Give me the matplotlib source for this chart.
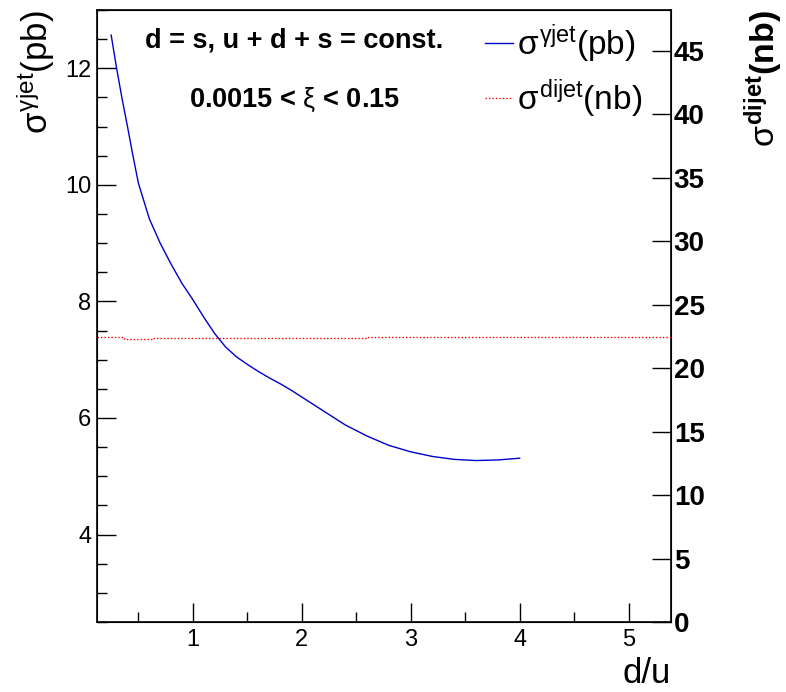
import numpy as np
import matplotlib
matplotlib.use("Agg")
import matplotlib.pyplot as plt
from matplotlib.ticker import MultipleLocator
from matplotlib.lines import Line2D

plt.rcParams['font.family'] = ['Liberation Sans', 'DejaVu Sans']
plt.rcParams['mathtext.fontset'] = 'custom'
plt.rcParams['mathtext.rm'] = 'Liberation Sans'
plt.rcParams['mathtext.it'] = 'Liberation Sans'   # upright greek like ROOT's Symbol font
plt.rcParams['mathtext.bf'] = 'Liberation Sans:bold'

# gamma+jet cross section (pb) vs d/u
du = [0.25, 0.3, 0.35, 0.4, 0.45, 0.5, 0.6, 0.7, 0.8, 0.9, 1.0, 1.1, 1.2, 1.3,
      1.4, 1.5, 1.6, 1.7, 1.8, 1.9, 2.0, 2.2, 2.4, 2.6, 2.8, 3.0, 3.2, 3.4,
      3.6, 3.8, 4.0]
sig_gjet = [12.57, 12.0, 11.48, 11.0, 10.5, 10.03, 9.42, 9.0, 8.64, 8.31, 8.03,
            7.73, 7.45, 7.22, 7.05, 6.92, 6.80, 6.69, 6.59, 6.48, 6.36, 6.12,
            5.88, 5.69, 5.53, 5.42, 5.34, 5.29, 5.27, 5.28, 5.31]

# dijet cross section (nb), nearly flat step line
du_dijet = [0.12, 0.37, 0.37, 0.63, 0.63, 2.61, 2.61, 5.39]
sig_dijet = [22.48, 22.48, 22.28, 22.28, 22.35, 22.35, 22.48, 22.48]

W, H = 786, 692
fig = plt.figure(figsize=(W / 100, H / 100), dpi=100)
ax = fig.add_axes([97 / W, 70 / H, 574 / W, 612 / H])

ax.plot(du, sig_gjet, color='#0000cc', lw=1.0)
ax.set_xlim(0.12, 5.39)
ax.set_ylim(2.5, 13.0)
ax.xaxis.set_major_locator(MultipleLocator(1))
ax.xaxis.set_minor_locator(MultipleLocator(0.5))
ax.yaxis.set_major_locator(MultipleLocator(2))
ax.yaxis.set_minor_locator(MultipleLocator(0.5))
ax.tick_params(which='both', direction='in', top=False, right=False, width=1)
ax.tick_params(which='major', length=13.5)
ax.tick_params(which='minor', length=7)
ax.tick_params(axis='y', labelsize=17, pad=4)
ax.tick_params(axis='x', labelsize=17, pad=5)
for s in ax.spines.values():
    s.set_linewidth(1.2)

ax2 = ax.twinx()
ax2.plot(du_dijet, sig_dijet, color='#ff0000', lw=1.0, linestyle=(0, (1, 1.5)))
ax2.set_ylim(0, 48.2)
ax2.yaxis.set_major_locator(MultipleLocator(5))
ax2.tick_params(axis='y', which='major', direction='in', length=13.5, width=1,
                labelsize=20, pad=2)
ax2.tick_params(axis='y', which='minor', right=False)
for lab in ax2.get_yticklabels():
    lab.set_fontweight('bold')

fig.text(36 / W, 1 - 10 / H, r'$\sigma^{\mathrm{\gamma jet}}$(pb)', rotation=90,
         ha='center', va='top', fontsize=25)
fig.text(764 / W, 1 - 10 / H, r'$\sigma^{\mathbf{dijet}}$(nb)', rotation=90,
         ha='center', va='top', fontsize=24.5, fontweight='bold')
fig.text(671 / W, 1 - 690 / H, 'd/u', ha='right', va='bottom', fontsize=25)

ax.text(294 / W, 1 - 41 / H, 'd = s, u + d + s = const.', transform=fig.transFigure,
        ha='center', va='center', fontsize=19.5, fontweight='bold')
ax.text(295 / W, 1 - 100 / H, r'0.0015 < $\xi$ < 0.15', transform=fig.transFigure,
        ha='center', va='center', fontsize=19.5, fontweight='bold')

handles = [Line2D([], [], color='#0000cc', lw=1.0),
           Line2D([], [], color='#ff0000', lw=1.0, linestyle=(0, (1, 1.5)))]
labels = [r'$\sigma^{\mathrm{\gamma jet}}$(pb)', r'$\sigma^{\mathrm{dijet}}$(nb)']
fig.legend(handles, labels, loc='upper left', bbox_to_anchor=(485 / W, 1 - 22 / H),
           frameon=False, fontsize=24, handlelength=0.85, handletextpad=0.12,
           labelspacing=0.38, borderpad=0, borderaxespad=0)

fig.savefig('out.png', dpi=100)
